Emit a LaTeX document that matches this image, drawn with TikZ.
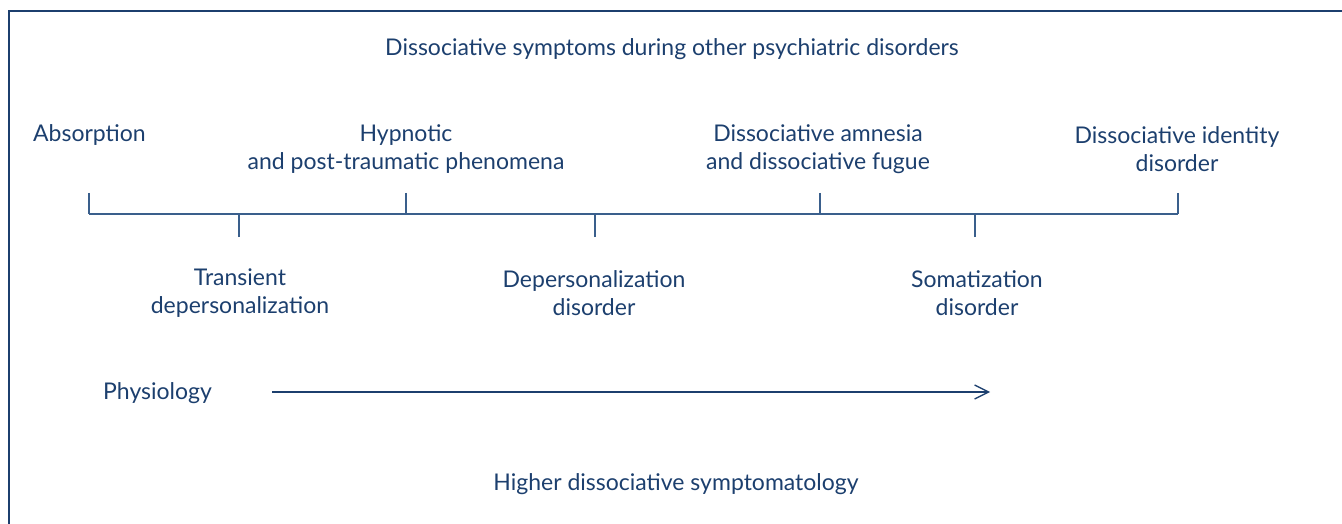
\documentclass[tikz,border=0pt]{standalone}
\usepackage{fontspec}
\setmainfont{Lato}
\usetikzlibrary{arrows.meta}
\definecolor{navy}{HTML}{1C3F6E}
\definecolor{rule}{HTML}{3A5F8C}

\begin{document}
\begin{tikzpicture}[x=1pt, y=-1pt,
    every node/.style={font=\fontsize{23}{28.5}\selectfont, text=navy, inner sep=0pt},
    lbl/.style={align=center},
    brk/.style={rule, line width=1.4pt},
    tick/.style={rule, line width=1.4pt}]
  \useasboundingbox (0,0) rectangle (1342,524);
  % frame (only left and top edges visible)
  \draw[navy, line width=1.5pt] (9,524) -- (9,11) -- (1342,11);

  % labels
  \node[lbl] (title) at (672,49) {Dissociative symptoms during other psychiatric disorders};
  \node[lbl, anchor=west] (absorp) at (33,135) {Absorption};
  \node[lbl] (hypno) at (406,149) {Hypnotic\\and post-traumatic phenomena};
  \node[lbl] (amnes) at (818,149) {Dissociative amnesia\\and dissociative fugue};
  \node[lbl] (ident) at (1177,149) {Dissociative identity\\disorder};
  \node[lbl] (trans) at (240,293) {Transient\\depersonalization};
  \node[lbl] (deper) at (594,293) {Depersonalization\\disorder};
  \node[lbl] (somat) at (977,293) {Somatization\\disorder};
  \node[lbl, anchor=west] (physio) at (103,393) {Physiology};
  \node[lbl] (higher) at (676,484) {Higher dissociative symptomatology};

  % bracket scale
  \coordinate (b0) at (89,214);
  \coordinate (b1) at (1178,214);
  \foreach \x/\n in {89/u1, 406/u2, 820/u3, 1178/u4} {
    \coordinate (\n) at (\x,193);
    \coordinate (\n b) at (\x,214);
  }
  \foreach \x/\n in {239/d1, 595/d2, 975/d3} {
    \coordinate (\n) at (\x,237);
    \coordinate (\n b) at (\x,214);
  }
  \draw[brk] (b0) -- (b1);
  \foreach \n in {u1,u2,u3,u4,d1,d2,d3}
    \draw[tick] (\n) -- (\n b);

  % arrow
  \coordinate (arrs) at (272,392);
  \coordinate (arre) at (990,392);
  \draw[navy, line width=1.3pt, -{Straight Barb[length=14pt, width=14pt, line width=1.3pt]}] (arrs) -- (arre);
\end{tikzpicture}
\end{document}
